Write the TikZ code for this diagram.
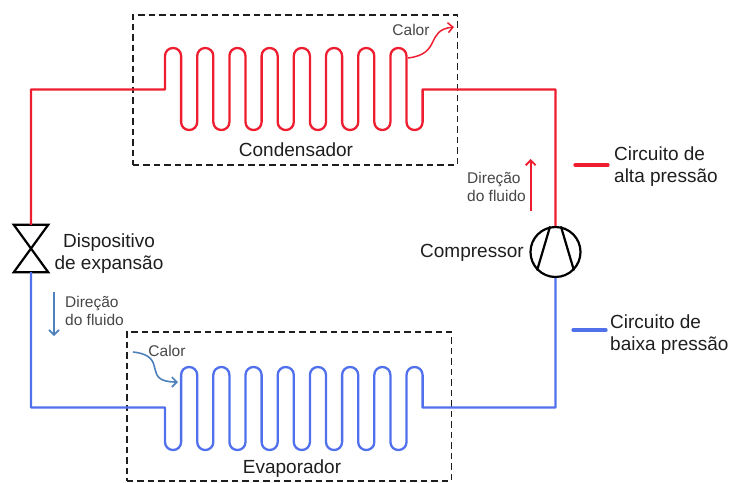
\documentclass[tikz,border=0pt]{standalone}
\usepackage{fontspec}
\setmainfont{Liberation Sans}
\usetikzlibrary{arrows.meta}
\definecolor{hot}{RGB}{238,30,48}
\definecolor{cold}{RGB}{80,112,236}
\definecolor{steel}{RGB}{79,129,189}
\definecolor{ink}{RGB}{30,30,30}
\definecolor{soft}{RGB}{70,70,70}
\tikzset{
  pipehot/.style={draw=hot,line width=2.3pt,line join=round},
  pipecold/.style={draw=cold,line width=2.3pt,line join=round},
  zone/.style={draw=ink,line width=1.7pt,dash pattern=on 6.5pt off 4pt,inner sep=0},
  part/.style={draw=black,line width=2.2pt},
  mainlabel/.style={font=\fontsize{19}{22}\selectfont,text=ink,inner sep=0,align=center},
  smalllabel/.style={font=\fontsize{15.5}{18}\selectfont,text=soft,inner sep=0,align=center},
  flowhot/.style={draw=hot,line width=1.8pt,-{Straight Barb[length=5pt,width=10pt]}},
  flowcold/.style={draw=steel,line width=1.6pt,-{Straight Barb[length=5pt,width=10pt]}}
}
\newcommand{\hottooth}{-- ++(16.1,0) -- ++(0,82) -- ++(16.1,0) -- ++(0,-82)}
\newcommand{\coldtooth}{-- ++(16.1,0) -- ++(0,-83) -- ++(16.1,0) -- ++(0,83)}
\begin{document}
\begin{tikzpicture}[x=1pt,y=-1pt]
\useasboundingbox (0,0) rectangle (730,482);
% zones
\node[zone,minimum width=324.7pt,minimum height=150pt,anchor=north west] (condbox) at (132,14) {};
\node[zone,minimum width=324.7pt,minimum height=149pt,anchor=north west] (evapbox) at (126,331) {};
% parts
\node[minimum width=34pt,minimum height=47pt,inner sep=0] (valve) at (31,248.5) {};
\node[part,circle,minimum size=50pt,inner sep=0] (comp) at (555.5,252) {};
\draw[part,line join=miter] (valve.north west) -- (valve.south east) -- (valve.south west) -- (valve.north east) -- cycle;
\draw[part] (comp.102) -- (comp.225);
\draw[part] (comp.78) -- (comp.315);
% coil end points
\coordinate (cin) at (165,89.5);
\coordinate (cout) at (422.6,89.5);
\coordinate (ein) at (165,407.5);
\coordinate (eout) at (422.6,407.5);
% high-pressure circuit
\draw[pipehot] (valve.north) |- (cin)
  [rounded corners=7.9pt] -- (165,48)
  \hottooth \hottooth \hottooth \hottooth
  \hottooth \hottooth \hottooth
  -- ++(16.1,0) -- ++(0,82) -- ++(16.1,0)
  [sharp corners] -- (cout) -| (comp.north);
% low-pressure circuit
\draw[pipecold] (valve.south) |- (ein)
  [rounded corners=7.9pt] -- (165,450)
  \coldtooth \coldtooth \coldtooth \coldtooth
  \coldtooth \coldtooth \coldtooth
  -- ++(16.1,0) -- ++(0,-83) -- ++(16.1,0)
  [sharp corners] -- (eout) -| (comp.south);
% heat arrows
\coordinate (hotA) at (408,58);
\coordinate (hotB) at (454,27);
\coordinate (coldA) at (133,352);
\coordinate (coldB) at (178,382);
\draw[flowhot,line width=1.5pt] (hotA) .. controls (442,54) and (425,30) .. (hotB);
\draw[flowcold] (coldA) .. controls (170,356) and (140,382) .. (coldB);
% flow arrows
\coordinate (fhS) at (530.7,211);
\coordinate (fhE) at (530.7,159);
\coordinate (fcS) at (54,292);
\coordinate (fcE) at (54,336);
\draw[flowhot] (fhS) -- (fhE);
\draw[flowcold] (fcS) -- (fcE);
% legend
\coordinate (lhA) at (575,165);
\coordinate (lhB) at (608,165);
\coordinate (lcA) at (573,330);
\coordinate (lcB) at (606,330);
\draw[draw=hot,line width=3.2pt,line cap=round] (lhA) -- (lhB);
\draw[draw=cold,line width=3.2pt,line cap=round] (lcA) -- (lcB);
% labels
\node[mainlabel] (lcond) at (296,150) {Condensador};
\node[mainlabel] (levap) at (292,469) {Evaporador};
\node[mainlabel] (lvalve) at (109,254) {Dispositivo\\de expansão};
\node[mainlabel,anchor=west] (lcomp) at (420,252.5) {Compressor};
\node[mainlabel,anchor=west,align=left] (lhigh) at (614,167) {Circuito de\\alta pressão};
\node[mainlabel,anchor=west,align=left] (llow) at (610,335) {Circuito de\\baixa pressão};
\node[smalllabel] (calorh) at (411,30) {Calor};
\node[smalllabel] (calorc) at (167,351) {Calor};
\node[smalllabel,anchor=west,align=left] (dirh) at (467,187) {Direção\\do fluido};
\node[smalllabel,anchor=west,align=left] (dirc) at (65,311) {Direção\\do fluido};
\end{tikzpicture}
\end{document}
